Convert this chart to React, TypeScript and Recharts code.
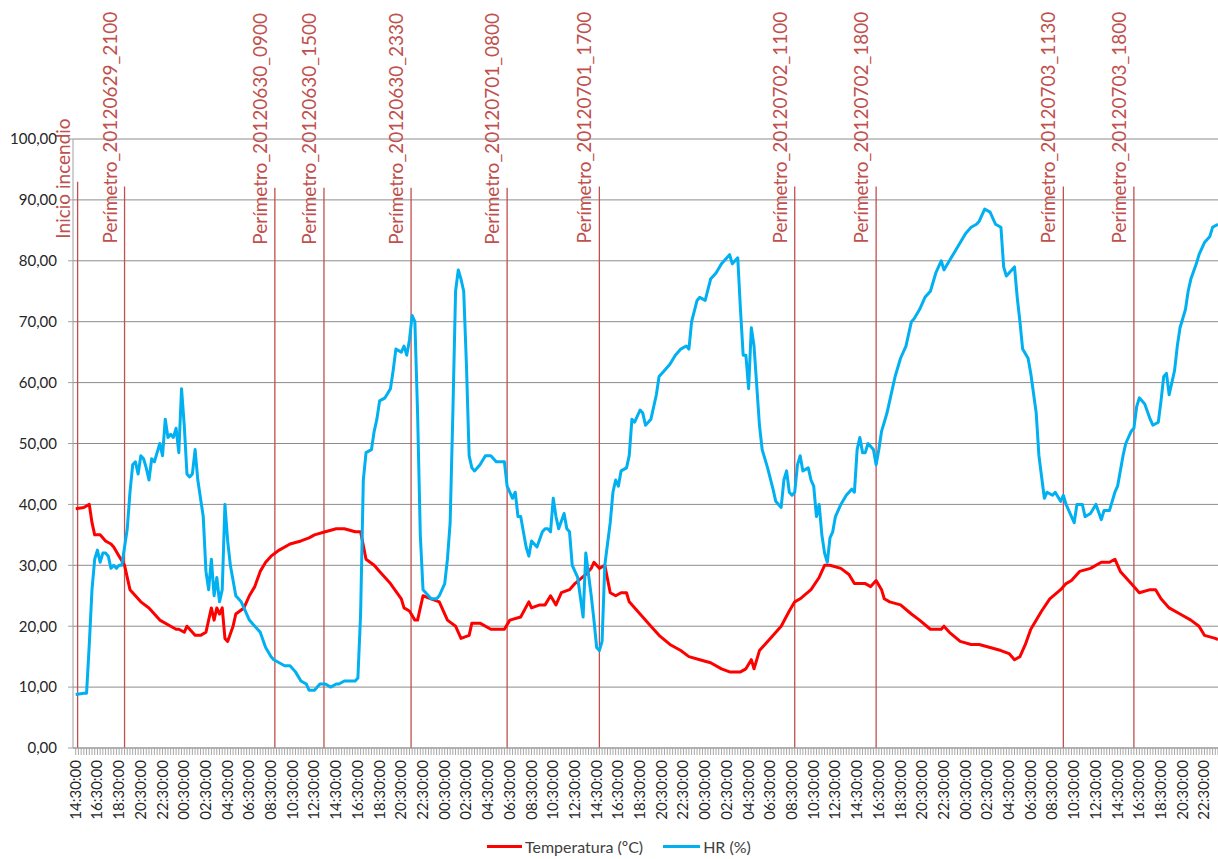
import React from "react";
import { LineChart, Line, XAxis, YAxis, CartesianGrid, ReferenceLine } from "recharts";

// x = index of 15-minute step since 29/06/2012 14:30
const tempIdx = [0,3,5,6,7,9,11,13,14,16,18,20,22,24,27,29,31,35,37,38,40,41,44,46,48,50,51,52,53,54,55,56,58,59,62,64,66,68,70,72,75,79,83,86,88,92,96,99,103,105,107,110,112,116,120,121,123,125,126,128,131,134,137,140,142,145,146,149,153,156,158,160,164,167,168,171,173,175,177,179,182,184,188,190,191,193,195,197,199,201,203,204,208,212,215,219,223,226,230,234,238,241,245,247,249,250,252,256,260,263,265,267,271,274,276,278,282,285,287,291,293,295,297,298,300,304,308,311,315,319,320,322,326,330,333,337,341,344,346,348,350,352,356,359,363,365,367,370,374,378,381,383,385,389,392,396,398,400,403,407,411,414,416,420,421];
const tempVal = [39.3,39.5,40,37,35,35,34,33.5,33,31.5,30,26,25,24,23,22,21,20,19.5,19.5,19,20,18.5,18.5,19,23,21,23,22,23,18,17.5,20,22,23,25,26.5,29,30.5,31.5,32.5,33.5,34,34.5,35,35.5,36,36,35.5,35.5,31,30,29,27,24.5,23,22.5,21,21,25,24.5,24,21,20,18,18.5,20.5,20.5,19.5,19.5,19.5,21,21.5,24,23,23.5,23.5,25,23.5,25.5,26,27,28.5,29.5,30.5,29.5,30,25.5,25,25.5,25.5,24,22,20,18.5,17,16,15,14.5,14,13,12.5,12.5,13,14.5,13,16,18,20,22.5,24,24.5,26,28,30,30,29.5,28.5,27,27,26.5,27.5,26,24.5,24,23.5,22,21,19.5,19.5,20,19,17.5,17,17,16.5,16,15.5,14.5,15,17,19.5,22.5,24.5,26,27,27.5,29,29.5,30.5,30.5,31,29,27,25.5,26,26,24.5,23,22,21,20,18.5,18,17.8];

const hrIdx = [0,3,4,5,6,7,8,9,10,11,12,13,14,15,16,17,18,19,20,21,22,23,24,25,26,27,28,29,30,31,32,33,34,35,36,37,38,39,40,41,42,43,44,45,46,47,48,49,50,51,52,53,54,55,56,57,59,61,62,64,66,68,70,72,73,75,77,79,81,83,85,86,88,90,92,94,96,97,99,101,103,104,105,106,107,109,110,111,112,114,116,117,118,120,121,122,123,124,125,126,127,128,130,131,133,134,136,137,138,139,140,141,142,143,144,145,146,147,149,151,153,155,156,158,159,161,162,163,164,166,167,168,169,170,172,173,174,175,176,177,178,180,181,182,183,185,187,188,190,191,192,193,194,195,197,198,199,200,201,203,204,205,206,208,209,210,212,214,215,217,219,221,223,225,226,227,229,230,232,234,236,238,239,241,242,244,245,246,247,248,249,250,252,253,255,257,258,260,261,262,263,264,265,266,267,268,270,271,272,273,274,275,276,277,278,279,280,282,284,286,287,288,289,290,291,292,294,295,296,297,299,300,302,304,306,308,309,311,313,315,317,319,320,322,324,326,328,330,332,333,335,337,339,341,342,343,344,346,347,348,349,351,352,354,355,356,357,358,360,361,363,364,365,367,368,369,371,372,374,376,378,379,381,383,384,386,387,389,390,391,392,394,396,397,399,400,401,402,403,405,406,407,409,410,411,413,414,416,418,419,421];
const hrVal = [8.8,9,9,17,26,31,32.5,30.5,32,32,31.5,29.5,30,29.5,30,30,33,36,42,46.5,47,45,48,47.5,46,44,47.5,47,48.5,50,48,54,51,51.5,51,52.5,48.5,59,53,45,44.5,45,49,44,41,38,29,26,31,25,28,24,26,40,34,30,25,24,23,21,20,19,16.5,15,14.5,14,13.5,13.5,12.5,11,10.5,9.5,9.5,10.5,10.5,10,10.5,10.5,11,11,11,11.5,22,44,48.5,49,52,54,57,57.5,59,62,65.5,65,66,64.5,67,71,70,55,35,26,25,24.5,24.5,25,27,31,37,55,75,78.5,77,75,63,48,46,45.5,46.5,48,48,47,47,47,43,41,42,38,38,33,31.5,34,33.5,33,35.5,36,36,35.5,41,38,36,38.5,36,35.5,30,28,21.5,32,25,21,16.5,16,17.5,30,37,42,44,43,45.5,46,48,54,53.5,55.5,55,53,54,58,61,62,63,64.5,65.5,66,65.5,70,73.5,74,73.5,77,78,79.5,80,81,79.5,80.5,72,64.5,64.5,59,69,66,53,49,46,42.5,40.5,39.5,44,45.5,42,41.5,42,46.5,48,45.5,46,44,43,38,40,35,32,30.5,34.5,35.5,38,40,41.5,42.5,42,49,51,48.5,48.5,50,49,46.5,49,52,55,57,61,64,66,70,70.5,72,74,75,78,80,78.5,80,81.5,83,84.5,85.5,86,86.5,88.5,88,86,85.5,79,77.5,78,79,74,70,65.5,64,61.5,55,48,44.5,41,42,41.5,42,40.5,41.5,40,38,37,40,40,38,38.5,40,37.5,39,39,42,43,48,50,52,52.5,56,57.5,56.5,54,53,53.5,57,61,61.5,58,62,66,69,72,75,77,79.5,81,83,84,85.5,86];

const refLabels = ["Inicio incendio","Perímetro_20120629_2100","Perímetro_20120630_0900","Perímetro_20120630_1500","Perímetro_20120630_2330","Perímetro_20120701_0800","Perímetro_20120701_1700","Perímetro_20120702_1100","Perímetro_20120702_1800","Perímetro_20120703_1130","Perímetro_20120703_1800"];
const refIdx = [0.7,18,73.4,91.5,123.6,159,193,265,295,364,390];
const refTop = [93,92.2,92,92,92,92,92.2,92.2,92.2,92.2,92.2];

const yTicks = [0,10,20,30,40,50,60,70,80,90,100];
const startMinutes = 14 * 60 + 30;
const stepMinutes = 15;
const labelEvery = 8;
const nSteps = 422;

const tempData = tempIdx.map((i, k) => ({ i, v: tempVal[k] }));
const hrData = hrIdx.map((i, k) => ({ i, v: hrVal[k] }));
const xTicks = Array.from({ length: nSteps }, (_, k) => k);

const FONT = "Lato, 'Open Sans', sans-serif";
const RED_LABEL = "#c0504d";

function timeLabel(i: number) {
  const m = (startMinutes + i * stepMinutes) % 1440;
  const hh = String(Math.floor(m / 60)).padStart(2, "0");
  const mm = String(m % 60).padStart(2, "0");
  return `${hh}:${mm}:00`;
}

const XTick = (props: any) => {
  const { x, y, payload } = props;
  if (payload.value % labelEvery !== 0) return null;
  const ax = x + 5;
  return (
    <text x={ax} y={y} textAnchor="end" transform={`rotate(-90, ${ax}, ${y})`}
      fontFamily={FONT} fontSize={15} fill="#262626">
      {timeLabel(payload.value)}
    </text>
  );
};

const makeRefLabel = (text: string) => (props: any) => {
  const vb = props.viewBox || {};
  const ax = vb.x - 8;
  const ay = vb.y + 57;
  return (
    <text x={ax} y={ay} textAnchor="start" transform={`rotate(-90, ${ax}, ${ay})`}
      fontFamily={FONT} fontSize={19} fill={RED_LABEL}>
      {text}
    </text>
  );
};

export default function App() {
  return (
    <div style={{ position: "absolute", left: 0, top: 0, width: 1218, height: 859, background: "#fff" }}>
      <LineChart width={1218} height={859} margin={{ top: 139, right: 0, left: 0, bottom: 0 }}>
        <CartesianGrid vertical={false} stroke="#8c8c8c" strokeWidth={1} />
        <XAxis dataKey="i" type="number" domain={[-1, 421]} ticks={xTicks} interval={0}
          allowDuplicatedCategory={false} height={111} tickSize={7} tickMargin={5}
          stroke="#a0a0a0" tickLine={{ stroke: "#a6a6a6" }} tick={<XTick />} allowDataOverflow />
        <YAxis type="number" domain={[0, 100]} ticks={yTicks} width={73} tickSize={5} tickMargin={11}
          stroke="#a0a0a0" tickLine={{ stroke: "#a0a0a0" }}
          tickFormatter={(v: number) => v.toFixed(2).replace(".", ",")}
          tick={{ fontFamily: FONT, fontSize: 15, fill: "#262626" }} />
        {refIdx.map((ri, k) => (
          <ReferenceLine key={k} segment={[{ x: ri, y: 0 }, { x: ri, y: refTop[k] }]}
            stroke={RED_LABEL} strokeWidth={1.3} ifOverflow="visible"
            label={makeRefLabel(refLabels[k])} />
        ))}
        <Line data={tempData} dataKey="v" type="linear" stroke="#ff0000" strokeWidth={3}
          dot={false} isAnimationActive={false} strokeLinejoin="round" name="Temperatura (ºC)" />
        <Line data={hrData} dataKey="v" type="linear" stroke="#00b0f0" strokeWidth={3}
          dot={false} isAnimationActive={false} strokeLinejoin="round" name="HR (%)" />
      </LineChart>
      <div style={{ position: "absolute", top: 837, left: 487, display: "flex", alignItems: "center",
        fontFamily: FONT, fontSize: 16, color: "#404040", whiteSpace: "nowrap" }}>
        <span style={{ display: "inline-block", width: 35, height: 3, background: "#ff0000", marginRight: 3 }} />
        <span style={{ marginRight: 20 }}>Temperatura (ºC)</span>
        <span style={{ display: "inline-block", width: 37, height: 3, background: "#00b0f0", marginRight: 3 }} />
        <span>HR (%)</span>
      </div>
    </div>
  );
}
